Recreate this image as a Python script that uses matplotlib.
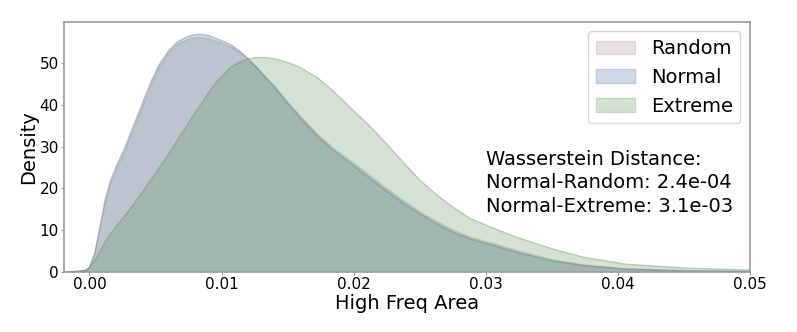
import matplotlib
matplotlib.use("Agg")
import matplotlib.pyplot as plt
from matplotlib.patches import Patch

# density curves (x = High Freq Area)
x_vals = [-0.0017, -0.001, -0.0003, 0.0, 0.0004, 0.0009, 0.0012, 0.0016, 0.0021,
          0.0027, 0.0032, 0.0037, 0.0042, 0.0047, 0.0053, 0.006, 0.0066, 0.0073,
          0.0078, 0.0083, 0.009, 0.0096, 0.0107, 0.0114, 0.012, 0.0127, 0.0133,
          0.014, 0.0146, 0.0152, 0.0159, 0.0172, 0.0184, 0.0198, 0.0211, 0.0224,
          0.0237, 0.025, 0.0263, 0.0275, 0.0288, 0.0306, 0.0324, 0.035, 0.0375,
          0.0406, 0.045, 0.05]

random_density = [0.0, 0.05, 0.3, 0.9, 4.0, 11.5, 16.5, 21.0, 25.0,
                  29.0, 33.1, 37.0, 41.0, 45.0, 49.1, 52.5, 54.4, 55.6,
                  56.1, 56.2, 55.9, 55.3, 54.0, 52.6, 51.0, 48.9, 46.8,
                  44.6, 42.3, 40.0, 37.6, 33.2, 29.8, 26.5, 23.4, 20.2,
                  17.2, 14.4, 12.0, 10.0, 8.3, 6.7, 5.0, 2.9, 1.6,
                  0.7, 0.25, 0.06]

normal_density = [0.0, 0.05, 0.3, 1.0, 4.5, 12.5, 17.5, 21.9, 25.8,
                  29.9, 34.0, 37.9, 42.0, 45.9, 49.8, 53.1, 55.0, 56.3,
                  56.8, 57.0, 56.7, 56.0, 54.5, 52.9, 51.1, 48.9, 46.7,
                  44.3, 41.9, 39.7, 37.1, 32.7, 29.3, 25.9, 22.8, 19.6,
                  16.6, 13.9, 11.5, 9.5, 7.9, 6.3, 4.6, 2.6, 1.4,
                  0.6, 0.2, 0.05]

extreme_density = [0.0, 0.05, 0.3, 1.0, 2.7, 5.5, 7.3, 9.1, 11.2,
                   13.5, 15.6, 17.8, 20.0, 22.4, 25.0, 28.3, 31.3, 34.8,
                   37.2, 39.6, 42.9, 45.5, 49.1, 50.4, 51.1, 51.4, 51.4,
                   51.1, 50.6, 50.0, 49.1, 46.7, 43.5, 39.2, 35.3, 31.0,
                   26.4, 22.0, 18.4, 15.5, 12.8, 10.4, 8.2, 5.5, 3.4,
                   1.8, 0.9, 0.4]

labels = ["Random", "Normal", "Extreme"]
colors = ["#a38f7f", "#3f6fa3", "#538f4b"]
x_ticks = [0.00, 0.01, 0.02, 0.03, 0.04, 0.05]
y_ticks = [0, 10, 20, 30, 40, 50]

fig = plt.figure(figsize=(7.97, 3.32), dpi=100)
ax = fig.add_axes([0.0807, 0.1816, 0.8606, 0.7530])

handles = []
for dens, lab, col in zip([random_density, normal_density, extreme_density], labels, colors):
    ax.fill_between(x_vals, dens, 0, facecolor=col, alpha=0.25, linewidth=0)
    ax.plot(x_vals, dens, color=col, alpha=0.35, linewidth=1)
    handles.append(Patch(facecolor=col, edgecolor=col, alpha=0.25, label=lab))

ax.set_xlim(-0.0019, 0.05)
ax.set_ylim(0, 60)
ax.set_xticks(x_ticks)
ax.set_xticklabels([f"{t:.2f}" for t in x_ticks])
ax.set_yticks(y_ticks)
ax.tick_params(labelsize=11, color="#999999", length=2, pad=2)
for sp in ax.spines.values():
    sp.set_color("#999999")
    sp.set_linewidth(1.2)

ax.set_xlabel("High Freq Area", fontsize=14, labelpad=1)
ax.set_ylabel("Density", fontsize=14, labelpad=1)

ax.legend(handles=handles, loc="upper right", fontsize=14)

ax.text(0.615, 0.355,
        "Wasserstein Distance:\nNormal-Random: 2.4e-04\nNormal-Extreme: 3.1e-03",
        transform=ax.transAxes, fontsize=14, va="center", ha="left", linespacing=1.3)

fig.savefig("out.png", dpi=100)
